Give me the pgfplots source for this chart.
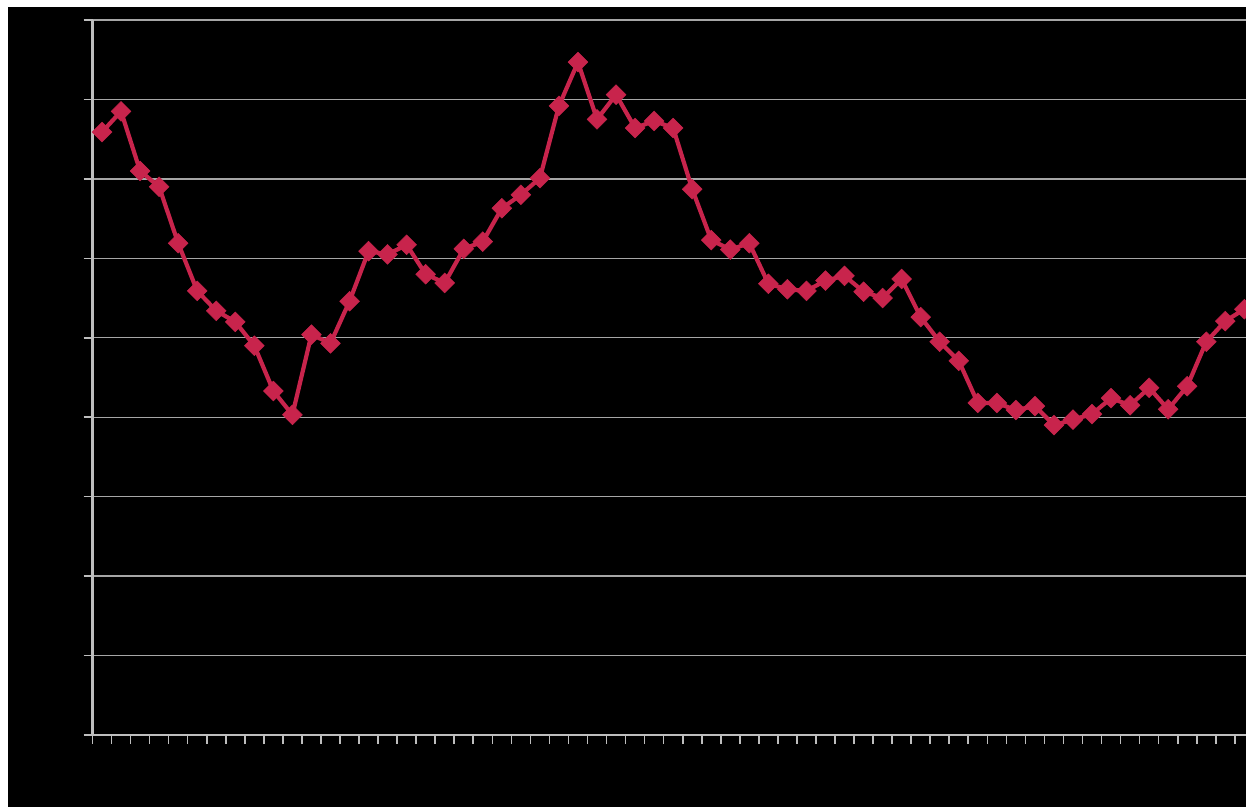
\documentclass[border=0pt]{standalone}
\usepackage{pgfplots}
\pgfplotsset{compat=1.18}
\definecolor{linecol}{RGB}{200,36,76}
\definecolor{gridcol}{RGB}{166,166,166}
\definecolor{axcol}{RGB}{190,190,190}
\begin{document}
\begin{tikzpicture}
\useasboundingbox (0,0) rectangle (1246pt,807pt);
\clip (0,0) rectangle (1246pt,807pt);
\fill[white] (0,0) rectangle (1246pt,807pt);
\fill[black] (8pt,0) rectangle (1246pt,800pt);
\begin{axis}[
  at={(92.5pt,72pt)}, anchor=south west,
  scale only axis, width=1161.4pt, height=715pt,
  xmin=0.5, xmax=61.5, ymin=0, ymax=90,
  axis x line*=bottom, axis y line*=left,
  axis line style={axcol, line width=2.2pt, -},
  xtick={0.5,1.5,...,61.5}, ytick={0,10,...,90},
  xticklabels={}, yticklabels={},
  tick align=outside, major tick length=9pt,
  every tick/.style={axcol, line width=1.6pt},
  ymajorgrids, grid style={gridcol, line width=1.4pt},
  clip=false,
]
\addplot[linecol, line width=4.2pt, mark=square*, mark size=7pt,
  mark options={rotate=45, fill=linecol, draw=linecol, line width=0.5pt}]
coordinates {
(1,75.9) (2,78.5) (3,71.0) (4,69.0) (5,61.9) (6,55.9) (7,53.4) (8,52.0) (9,49.0) (10,43.3)
(11,40.3) (12,50.4) (13,49.3) (14,54.6) (15,60.9) (16,60.5) (17,61.7) (18,58.0) (19,56.9) (20,61.2)
(21,62.1) (22,66.3) (23,68.0) (24,70.1) (25,79.2) (26,84.7) (27,77.5) (28,80.6) (29,76.4) (30,77.3)
(31,76.4) (32,68.7) (33,62.3) (34,61.1) (35,61.9) (36,56.8) (37,56.1) (38,55.9) (39,57.2) (40,57.8)
(41,55.8) (42,55.0) (43,57.4) (44,52.6) (45,49.5) (46,47.1) (47,41.8) (48,41.8) (49,40.9) (50,41.4)
(51,39.0) (52,39.7) (53,40.4) (54,42.4) (55,41.5) (56,43.7) (57,41.0) (58,43.9) (59,49.5) (60,52.1)
(61,53.6)
};
\end{axis}
\end{tikzpicture}
\end{document}
